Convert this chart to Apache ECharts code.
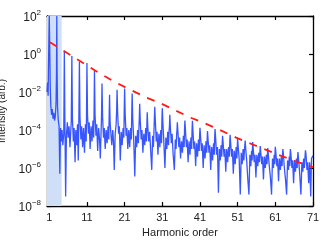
<!DOCTYPE html>
<html>
<head>
<meta charset="utf-8">
<script src="https://cdn.jsdelivr.net/npm/echarts@6/dist/echarts.min.js"></script>
<style>
html,body{margin:0;padding:0;background:#fff;}
#c{width:324px;height:241px;}
</style>
</head>
<body>
<div id="c"></div>
<script>
// Harmonic-order axis ticks
var xTicks = [1, 11, 21, 31, 41, 51, 61, 71];
// Intensity axis ticks (exponents of 10)
var yTickExps = [-8, -6, -4, -2, 0, 2];
// Shaded low-order region (harmonic order range)
var shadeRange = [0.4, 4.3];
// Envelope (red dashed): harmonic order and log10 intensity
var envelopeH = [1.2, 6.8, 10.7, 14.5, 18.4, 22.4, 26.4, 30.4, 34.4, 38.5, 42.4, 46.5, 50.6, 54.8, 58.9, 62.8, 66.8, 71];
var envelopeLog = [0.62, -0.08, -0.56, -1.03, -1.47, -1.87, -2.26, -2.58, -2.96, -3.35, -3.66, -4.02, -4.4, -4.75, -5.07, -5.38, -5.68, -5.95];
// Spectrum (blue): [harmonic order, log10 intensity]
var spectrum = [
[0.4,-2.0],[0.55,-1.5],[0.7,-2.2],[0.8,-0.6],[0.92,1.0],[1.0,2.0],[1.08,1.0],[1.25,-1.6],[1.4,-2.7],[1.6,-3.2],[1.8,-2.9],[2.0,-3.4],[2.2,-3.1],[2.4,-3.5],[2.6,-3.3],[2.8,-2.6],[2.92,-1],[3.0,2.0],[3.08,-1],[3.2,-2.8],[3.4,-3.5],[3.6,-3.8],[3.8,-6.3],[4.0,-3.9],[4.2,-4.6],[4.4,-4.0],[4.6,-4.8],
[4.85,-4.2],[5.0,0.15],[5.15,-3.5],[5.35,-7.5],[5.55,-4.3],[5.8,-3.6],[6.0,-4.4],[6.25,-3.8],[6.5,-4.9],[6.75,-3.9],
[6.85,-3.5],[7.0,-0.1],[7.15,-3.4],[7.4,-4.6],[7.6,-3.9],[7.85,-5.7],[8.05,-4.0],[8.3,-4.8],[8.5,-3.7],[8.7,-5.6],
[8.85,-3.6],[9.0,-0.42],[9.15,-3.3],[9.4,-4.5],[9.6,-3.8],[9.85,-4.9],[10.1,-3.9],[10.35,-5.2],[10.6,-3.7],[10.8,-4.6],
[10.88,-3.4],[11.0,-0.48],[11.15,-3.2],[11.4,-4.2],[11.6,-3.6],[11.85,-5.0],[12.1,-3.8],[12.35,-4.6],[12.6,-3.5],[12.8,-4.4],
[12.88,-3.3],[13.0,-0.88],[13.15,-3.2],[13.4,-4.3],[13.6,-3.7],[13.85,-5.1],[14.1,-3.9],[14.35,-4.5],[14.55,-5.5],[14.8,-3.8],
[14.88,-3.2],[15.0,-1.55],[15.15,-3.3],[15.4,-4.4],[15.6,-3.9],[15.85,-5.0],[16.1,-4.0],[16.35,-4.7],[16.6,-3.8],[16.8,-4.5],
[16.88,-3.5],[17.0,-2.15],[17.15,-3.6],[17.4,-4.3],[17.6,-4.8],[17.85,-4.0],[18.05,-4.6],[18.25,-6.1],[18.5,-4.2],[18.75,-3.7],
[18.88,-3.0],[19.0,-1.88],[19.15,-3.1],[19.4,-4.2],[19.6,-3.8],[19.85,-5.6],[20.1,-4.1],[20.35,-4.8],[20.6,-3.9],[20.8,-4.4],
[20.88,-3.2],[21.0,-1.82],[21.15,-3.2],[21.4,-4.3],[21.6,-3.9],[21.85,-5.0],[22.1,-4.0],[22.35,-4.9],[22.6,-3.9],[22.8,-4.5],
[22.88,-3.3],[23.0,-2.08],[23.15,-3.4],[23.4,-4.4],[23.7,-6.45],[23.95,-4.3],[24.2,-4.9],[24.45,-4.0],[24.65,-4.7],[24.82,-3.8],
[24.9,-3.4],[25.0,-2.62],[25.15,-3.5],[25.4,-4.5],[25.6,-4.0],[25.85,-5.2],[26.1,-4.2],[26.35,-4.8],[26.6,-3.9],[26.8,-4.6],
[26.9,-3.8],[27.0,-3.07],[27.15,-3.8],[27.4,-4.6],[27.65,-4.1],[27.9,-5.0],[28.2,-6.1],[28.45,-4.3],[28.65,-4.9],[28.82,-3.9],
[28.9,-3.4],[29.0,-2.78],[29.15,-3.5],[29.4,-4.6],[29.6,-4.1],[29.85,-5.3],[30.1,-4.2],[30.35,-4.9],[30.6,-4.0],[30.8,-4.7],
[30.9,-3.5],[31.0,-2.85],[31.15,-3.6],[31.4,-4.6],[31.7,-6.0],[31.95,-4.4],[32.2,-5.0],[32.45,-4.1],[32.65,-4.8],[32.82,-4.0],
[32.9,-3.8],[33.0,-3.2],[33.15,-3.9],[33.4,-4.7],[33.6,-4.2],[33.85,-5.2],[34.2,-6.1],[34.45,-4.5],[34.65,-5.0],[34.82,-4.2],
[34.9,-4.0],[35.0,-3.6],[35.15,-4.1],[35.4,-4.9],[35.6,-4.4],[35.85,-5.5],[36.1,-4.6],[36.35,-5.2],[36.6,-4.3],[36.8,-4.9],
[36.9,-4.0],[37.0,-3.5],[37.15,-4.0],[37.4,-4.9],[37.6,-4.5],[37.85,-5.7],[38.1,-4.6],[38.35,-5.3],[38.6,-4.4],[38.8,-5.0],
[38.9,-4.0],[39.0,-3.52],[39.15,-4.1],[39.4,-5.0],[39.6,-4.6],[39.85,-5.9],[40.1,-4.7],[40.35,-5.4],[40.6,-4.5],[40.8,-5.1],
[40.9,-4.3],[41.0,-3.88],[41.15,-4.3],[41.4,-5.1],[41.6,-4.7],[41.85,-6.0],[42.1,-4.8],[42.35,-5.5],[42.6,-4.6],[42.8,-5.2],
[42.9,-4.5],[43.0,-4.05],[43.15,-4.5],[43.4,-5.2],[43.6,-4.8],[43.85,-6.1],[44.1,-4.9],[44.35,-5.6],[44.6,-4.7],[44.8,-5.3],
[44.9,-4.4],[45.0,-3.95],[45.15,-4.4],[45.4,-5.3],[45.65,-4.9],[45.9,-7.3],[46.15,-5.0],[46.4,-5.6],[46.6,-4.8],[46.8,-5.4],
[46.9,-4.7],[47.0,-4.3],[47.15,-4.7],[47.4,-5.4],[47.6,-5.0],[47.85,-6.2],[48.1,-5.0],[48.35,-5.7],[48.6,-4.9],[48.8,-5.4],
[48.9,-4.7],[49.0,-4.25],[49.15,-4.7],[49.4,-5.4],[49.6,-5.0],[49.85,-6.3],[50.1,-5.1],[50.35,-5.8],[50.6,-4.9],[50.8,-5.5],
[50.9,-4.9],[51.0,-4.45],[51.15,-4.9],[51.4,-5.5],[51.7,-7.4],[51.95,-5.2],[52.2,-5.8],[52.45,-5.0],[52.65,-5.6],[52.82,-5.0],
[52.9,-4.9],[53.0,-4.55],[53.15,-5.0],[53.4,-5.6],[53.7,-6.6],[54.0,-7.4],[54.25,-5.3],[54.5,-5.9],[54.7,-5.1],[54.85,-5.6],
[54.92,-5.0],[55.0,-4.63],[55.15,-5.0],[55.4,-5.7],[55.6,-5.3],[55.85,-6.5],[56.1,-5.3],[56.35,-5.9],[56.6,-5.2],[56.8,-5.7],
[56.9,-5.2],[57.0,-4.85],[57.15,-5.2],[57.4,-5.8],[57.6,-5.4],[57.85,-6.6],[58.1,-5.4],[58.35,-6.0],[58.6,-5.3],[58.8,-5.8],
[58.9,-5.3],[59.0,-4.95],[59.15,-5.3],[59.4,-5.9],[59.7,-6.5],[60.0,-7.4],[60.25,-5.5],[60.5,-6.0],[60.7,-5.3],[60.85,-5.8],
[60.92,-5.2],[61.0,-4.88],[61.15,-5.2],[61.4,-5.9],[61.6,-5.5],[61.85,-6.7],[62.1,-5.5],[62.35,-6.1],[62.6,-5.4],[62.8,-5.9],
[62.9,-5.3],[63.0,-5.0],[63.15,-5.3],[63.4,-6.0],[63.7,-6.6],[64.0,-7.4],[64.25,-5.6],[64.5,-6.1],[64.7,-5.4],[64.85,-5.9],
[64.92,-5.3],[65.0,-5.0],[65.15,-5.3],[65.4,-6.0],[65.6,-5.6],[65.85,-6.8],[66.1,-5.6],[66.35,-6.2],[66.6,-5.5],[66.8,-6.0],
[66.9,-5.5],[67.0,-5.16],[67.15,-5.5],[67.4,-6.1],[67.8,-7.4],[68.05,-5.7],[68.3,-6.2],[68.5,-5.5],[68.7,-6.0],[68.85,-5.5],
[68.92,-5.3],[69.0,-5.07],[69.15,-5.3],[69.4,-6.1],[69.6,-5.7],[69.85,-6.8],[70.1,-5.7],[70.4,-7.5],[70.6,-5.5],[70.8,-5.6],[71.0,-5.35]
];

var FONT = '"Liberation Sans", Arial, Helvetica, sans-serif';
var specData = spectrum.map(function (p) { return [p[0], Math.pow(10, p[1])]; });
var envData = envelopeH.map(function (h, i) { return [h, Math.pow(10, envelopeLog[i])]; });
var yTickVals = yTickExps.map(function (e) { return Math.pow(10, e); });
var yMin = yTickVals[0], yMax = yTickVals[yTickVals.length - 1];
var shadeData = [[shadeRange[0], yMax], [shadeRange[1], yMax]];

function expLabel(v) {
  var e = Math.round(Math.log(v) / Math.LN10);
  return '{b|10}{s|' + (e < 0 ? '\u2212' + (-e) : e) + '}';
}

var axisLineStyle = { color: '#000', width: 1.3 };
var chart = echarts.init(document.getElementById('c'), null, { renderer: 'canvas' });
chart.setOption({
  animation: false,
  grid: { left: 47, right: 11, top: 16, bottom: 35, containLabel: false, outerBoundsMode: 'none' },
  xAxis: [{
    type: 'value', min: 0.4, max: 71, position: 'bottom',
    name: 'Harmonic order', nameLocation: 'middle', nameGap: 19,
    nameTextStyle: { fontFamily: FONT, fontSize: 11, color: '#222' },
    axisLine: { show: true, onZero: false, lineStyle: axisLineStyle },
    axisTick: { show: true, inside: true, length: 4, customValues: xTicks, lineStyle: { color: '#000', width: 1.2 } },
    axisLabel: { show: true, customValues: xTicks, margin: 6, fontFamily: FONT, fontSize: 11, color: '#222' },
    splitLine: { show: false }
  }, {
    type: 'value', min: 0.4, max: 71, position: 'top',
    axisLine: { show: true, onZero: false, lineStyle: axisLineStyle },
    axisTick: { show: true, inside: true, length: 4, customValues: xTicks, lineStyle: { color: '#000', width: 1.2 } },
    axisLabel: { show: false },
    splitLine: { show: false }
  }],
  yAxis: [{
    type: 'log', logBase: 10, min: yMin, max: yMax, position: 'left',
    name: 'Intensity (arb.)', nameLocation: 'middle', nameGap: 29,
    nameTextStyle: { fontFamily: FONT, fontSize: 10, color: '#222' },
    axisLine: { show: true, onZero: false, lineStyle: axisLineStyle },
    axisTick: { show: true, inside: true, length: 4, customValues: yTickVals, lineStyle: { color: '#000', width: 1.2 } },
    axisLabel: {
      show: true, customValues: yTickVals, margin: 6, formatter: expLabel,
      rich: {
        b: { fontFamily: FONT, fontSize: 12, color: '#222', verticalAlign: 'bottom' },
        s: { fontFamily: FONT, fontSize: 8, color: '#222', verticalAlign: 'top', padding: [0, 0, 7, 0] }
      }
    },
    splitLine: { show: false }, minorTick: { show: false }
  }, {
    type: 'log', logBase: 10, min: yMin, max: yMax, position: 'right',
    axisLine: { show: true, onZero: false, lineStyle: axisLineStyle },
    axisTick: { show: true, inside: true, length: 4, customValues: yTickVals, lineStyle: { color: '#000', width: 1.2 } },
    axisLabel: { show: false },
    splitLine: { show: false }, minorTick: { show: false }
  }],
  series: [{
    type: 'line', xAxisIndex: 0, yAxisIndex: 0, data: shadeData,
    showSymbol: false, symbol: 'none', clip: true, silent: true,
    lineStyle: { width: 0, opacity: 0 },
    areaStyle: { color: '#cfdff7', opacity: 1, origin: 'start' },
    z: 1
  }, {
    type: 'line', xAxisIndex: 0, yAxisIndex: 0, data: specData,
    showSymbol: false, symbol: 'none', clip: true,
    lineStyle: { color: '#2244ff', width: 1.3, opacity: 0.9 },
    z: 2
  }, {
    type: 'line', xAxisIndex: 0, yAxisIndex: 0, data: envData,
    showSymbol: false, symbol: 'none', clip: true,
    lineStyle: { color: '#ff1a1a', width: 1.8, type: [8, 8] },
    z: 3
  }]
});
</script>
</body>
</html>
